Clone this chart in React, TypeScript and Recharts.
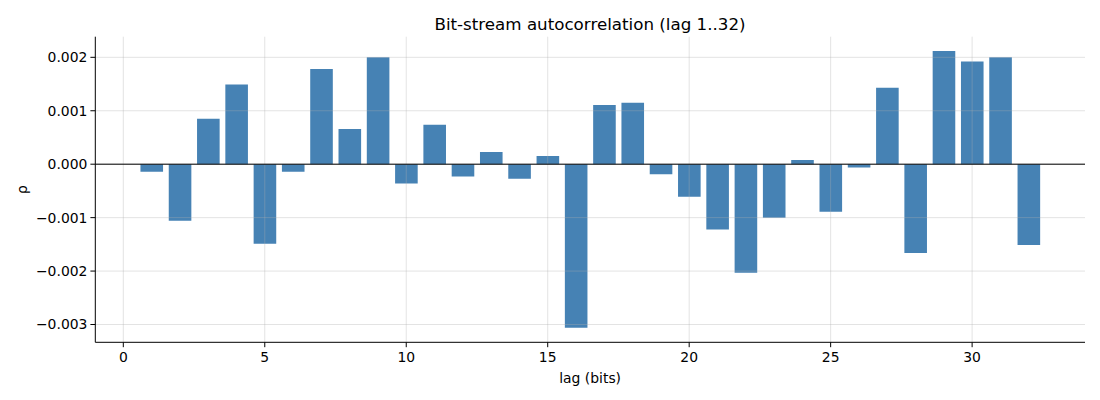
import { BarChart, Bar, XAxis, YAxis, ReferenceLine, Label } from 'recharts';

// lag values 1..32 and autocorrelation
const lags = Array.from({ length: 32 }, (_, i) => i + 1);
const rho = [
  -0.00014, -0.00106, 0.00085, 0.00149, -0.00149, -0.00014, 0.00178, 0.00066,
  0.002, -0.00036, 0.00074, -0.00023, 0.00023, -0.00027, 0.000155, -0.00306,
  0.00111, 0.00115, -0.00019, -0.00061, -0.00122, -0.00203, -0.001, 0.00008,
  -0.00089, -0.00006, 0.00143, -0.00166, 0.00212, 0.00192, 0.002, -0.00151,
];
const xTicks = [0, 5, 10, 15, 20, 25, 30];
const yTicks = [-0.003, -0.002, -0.001, 0, 0.001, 0.002];

const data = lags.map((lag, i) => ({ lag, rho: rho[i] }));

const FONT = '"DejaVu Sans", sans-serif';
// grid sits on top of the bars with some transparency, like the original
const GRID = '#b0b0b0';
const GRID_OPACITY = 0.35;

const fmtY = (v: number) => {
  const s = Math.abs(v).toFixed(3);
  return v < 0 ? '\u2212' + s : s;
};

export default function App() {
  return (
    <div style={{ position: 'absolute', left: 0, top: 0, width: 1100, height: 400, background: '#fff', fontFamily: FONT }}>
      <div
        style={{
          position: 'absolute',
          left: 95,
          width: 990,
          top: 14,
          textAlign: 'center',
          fontSize: 16.7,
          lineHeight: '20px',
          color: '#000',
        }}
      >
        Bit-stream autocorrelation (lag 1..32)
      </div>
      <BarChart
        width={1100}
        height={400}
        data={data}
        margin={{ top: 36.7, right: 15, bottom: 27.7, left: 25.3 }}
        style={{ fontFamily: FONT }}
      >
        <XAxis
          dataKey="lag"
          type="number"
          domain={[-0.99, 33.99]}
          ticks={xTicks}
          allowDataOverflow
          height={30}
          tickSize={4.9}
          tickMargin={5}
          stroke="#000"
          tick={{ fill: '#000', fontSize: 13.9 }}
        >
          <Label value="lag (bits)" position="insideBottom" offset={-11} style={{ fill: '#000', fontSize: 13.9 }} />
        </XAxis>
        <YAxis
          type="number"
          domain={[-0.003333, 0.002386]}
          ticks={yTicks}
          allowDataOverflow
          width={70}
          tickSize={4.9}
          tickMargin={3}
          tickFormatter={fmtY}
          stroke="#000"
          tick={{ fill: '#000', fontSize: 13.9 }}
        >
          <Label value="ρ" angle={-90} position="insideLeft" offset={-3.3} style={{ fill: '#000', fontSize: 13.9, textAnchor: 'middle' }} />
        </YAxis>
        <Bar dataKey="rho" fill="#4682b4" barSize={22.6} isAnimationActive={false} />
        {xTicks.map((t) => (
          <ReferenceLine key={'gx' + t} x={t} stroke={GRID} strokeOpacity={GRID_OPACITY} strokeWidth={1} />
        ))}
        {yTicks.map((t) => (
          <ReferenceLine key={'gy' + t} y={t} stroke={GRID} strokeOpacity={GRID_OPACITY} strokeWidth={1} />
        ))}
        <ReferenceLine y={0} stroke="#000" strokeWidth={1} />
      </BarChart>
    </div>
  );
}
